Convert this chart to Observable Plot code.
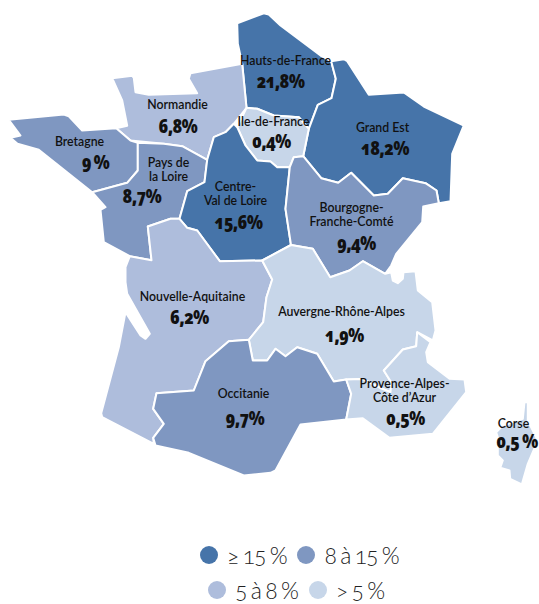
<!DOCTYPE html>
<html lang="fr"><head><meta charset="utf-8">
<script src="https://cdn.jsdelivr.net/npm/d3@7"></script>
<script src="https://cdn.jsdelivr.net/npm/@observablehq/plot@0.6"></script>
<style>
html,body{margin:0;padding:0;background:#fff}
svg{display:block}
svg text.val, .val text{letter-spacing:-.6px;font-stretch:85%}
#legend{position:absolute;left:0;top:537px;width:539px;font-family:Lato,sans-serif;font-weight:300;font-size:23px;letter-spacing:-1.2px;word-spacing:-.5px;color:#222;font-variant-numeric:oldstyle-nums}
.row{display:flex;justify-content:flex-start;align-items:center;height:35px;white-space:nowrap}
.row:nth-child(1){padding-left:200px}
.row:nth-child(2){padding-left:208px}
.sw{width:18px;height:18px;border-radius:50%;margin:0 9px 0 0;flex:none}
.lab{margin-right:11px}
</style></head><body>
<div id="chart"></div><div id="legend"></div>
<script>
const regions=["Hauts-de-France","Grand Est","Normandie","Ile-de-France","Bretagne","Pays de\nla Loire","Centre-\nVal de Loire","Bourgogne-\nFranche-Comté","Nouvelle-Aquitaine","Auvergne-Rhône-Alpes","Occitanie","Provence-Alpes-\nCôte d’Azur","Corse"];
const shares=[21.8,18.2,6.8,0.4,9,8.7,15.6,9.4,6.2,1.9,9.7,0.5,0.5];
const shareLabels=["21,8%","18,2%","6,8%","0,4%","9 %","8,7%","15,6%","9,4%","6,2%","1,9%","9,7%","0,5%","0,5 %"];
const nameX=[285,382,177,273,79,168,235,351,192,341,243,404,513];
const nameY=[60,127,104,121,141,169,193,214,296,311,393,390,423];
const valueX=[280,384.5,177.5,271,95,141.5,238,356,189,344,244.5,405,516.5];
const valueY=[81,148,126,141,162,196,222,243,317,335,418,418,441];
const classLimits=[5,8,15];
const classColors=["#c7d6e9","#aebddc","#7f97c1","#4674a9"];
const legendLabels=[["≥ 15 %","#4674a9"],["8 à 15 %","#7f97c1"],["5 à 8 %","#aebddc"],["> 5 %","#c7d6e9"]];

const hauts=[[236.7,22.7],[263.3,12.7],[268.3,14],[280,25],[320,55],[330.7,60.7],[335.3,78.3],[331,97.7],[317.3,104.3],[308.3,128.3],[298.3,116.7],[273.3,115],[256.7,108.3],[246,107.3],[241.7,63.3],[237.3,43.3]];
const grandEst=[[330.7,60.7],[343.3,58.7],[346.7,60.7],[368.3,94.3],[403.3,92],[423.3,106],[463.3,125],[451.7,153.3],[450,200.7],[438.3,202.7],[436,190],[425,182.7],[402.3,177.7],[387.3,193.3],[373.3,195],[350.7,172.3],[337.7,182.3],[320.7,177.7],[302.7,155.7],[308.3,128.3],[317.3,104.3],[331,97.7],[335.3,78.3]];
const idf=[[246,107.3],[256.7,108.3],[273.3,115],[298.3,116.7],[308.3,128.3],[302.7,155.7],[293.3,156.7],[289.3,166.7],[276.7,166.7],[270,161],[256.7,160],[245,145],[236.7,126.7]];
const normandie=[[111.7,77.7],[131.7,75.3],[133.3,77.3],[135,91.7],[148.3,94.3],[196.7,92.7],[188.3,78.3],[190,72.7],[241.7,63.3],[246,107.3],[233.3,123.3],[225,131.7],[213.3,136.7],[206.7,159.3],[181.7,145.7],[163.3,143.3],[130,140],[115.7,127.7],[126.7,125.3],[121.7,100]];
const bretagne=[[8.3,119.3],[63.3,114],[68.3,115.7],[81.7,130],[115.7,127.7],[130,140],[137.3,142.3],[137.3,170],[126.7,182.3],[91.7,191.7],[38.3,149.3],[17,143.3],[10,137.3],[20,135]];
const loire=[[137.3,142.3],[163.3,143.3],[181.7,145.7],[206.7,159.3],[204,181.7],[186.7,190.7],[179,218.3],[170,218.3],[147.3,226],[151,259.7],[129.3,255.7],[103.3,241.7],[100,209.3],[105,206.7],[91.7,191.7],[126.7,182.3],[137.3,170]];
const centre=[[206.7,159.3],[213.3,136.7],[225,131.7],[233.3,123.3],[236.7,126.7],[245,145],[256.7,160],[270,161],[276.7,166.7],[289.3,166.7],[285,208.3],[290.5,244.5],[261.7,260],[219.3,260.7],[196.7,230],[186.7,227.3],[179,218.3],[186.7,190.7],[204,181.7]];
const bourgogne=[[293.3,156.7],[302.7,155.7],[320.7,177.7],[337.7,182.3],[350.7,172.3],[373.3,195],[387.3,193.3],[402.3,177.7],[425,182.7],[436,190],[438.3,202.7],[422.7,206],[421.7,221.7],[395.7,253.3],[390.7,265],[384.7,273.3],[362.3,260.7],[349,270],[329.7,276.7],[312.3,248.3],[290.5,244.5],[285,208.3],[289.3,166.7]];
const aquitaine=[[125,266.7],[129.3,255.7],[151,259.7],[147.3,226],[170,218.3],[179,218.3],[186.7,227.3],[196.7,230],[219.3,260.7],[261.7,260],[271.7,279],[266,296.7],[262.7,321.7],[248.3,339.3],[228.3,340.7],[205,360.7],[193.3,390],[156,392.7],[152.7,408.3],[163.3,423.3],[152.7,437.3],[153.3,443.3],[101.7,416.7],[100.7,412.7],[118.3,346.7],[125,311.7],[140,335],[145,338.3],[149.3,333.3],[126.7,293.3],[125,281.7]];
const auvergne=[[290.5,244.5],[312.3,248.3],[329.7,276.7],[349,270],[362.3,260.7],[384.7,273.3],[390.7,271.7],[392.3,280],[397.3,282.7],[402.3,278.3],[403,271.7],[415,270.7],[417.3,290],[431.7,301.7],[435,330],[432.3,340],[416.7,331.7],[415.7,345.7],[402.3,349],[383.3,370],[390.7,381.7],[390,391.7],[381,388],[362,378.5],[345.7,379],[333.3,381],[316.7,353.3],[296.7,346.7],[285,355.7],[275,348.3],[266.7,360],[252.3,360],[248.3,339.3],[262.7,321.7],[266,296.7],[271.7,279],[261.7,260]];
const occitanie=[[228.3,340.7],[248.3,339.3],[252.3,360],[266.7,360],[275,348.3],[285,355.7],[296.7,346.7],[316.7,353.3],[333.3,381],[345.7,379],[350.7,393.3],[345.7,419],[300,424],[275,470],[270,472.3],[243.3,475],[188.3,452.3],[155,445],[152.7,437.3],[163.3,423.3],[152.7,408.3],[156,392.7],[193.3,390],[205,360.7]];
const paca=[[345.7,379],[362,378.5],[381,388],[390,391.7],[390.7,381.7],[383.3,370],[402.3,349],[415.7,345.7],[416.7,331.7],[430,341.7],[425.7,351.7],[427.3,361.7],[449,378.3],[464,379],[465.7,391.7],[432.3,433.3],[389,437.3],[362.3,417.7],[345.7,419],[350.7,393.3]];
const corse=[[524,401.7],[527.3,401.7],[527.3,420],[537.3,440],[527.3,463.3],[521.3,484],[509.7,478.3],[509,470],[499.7,467.3],[502.3,460],[497.3,455],[497.3,436.7],[495.7,431.7],[502.3,425],[522.3,418.3]];
const rings=[hauts,grandEst,normandie,idf,bretagne,loire,centre,bourgogne,aquitaine,auvergne,occitanie,paca,corse];

const features=rings.map((r,i)=>({type:"Feature",properties:{share:shares[i]},geometry:{type:"Polygon",coordinates:[[...r,r[0]]]}}));
const rows=regions.map((name,i)=>({name,label:shareLabels[i],nx:nameX[i],ny:nameY[i],vx:valueX[i],vy:valueY[i]}));

const plot=Plot.plot({width:539,height:530,margin:0,projection:"identity",
  color:{type:"threshold",domain:classLimits,range:classColors},
  marks:[
    Plot.geo(features,{fill:d=>d.properties.share,stroke:"#fff",strokeWidth:2,strokeLinejoin:"round"}),
    Plot.text(rows,{x:"nx",y:"ny",text:"name",fontFamily:"Lato",fontWeight:600,fontSize:12.3,lineHeight:1.18,fill:"#111"}),
    Plot.text(rows,{x:"vx",y:"vy",text:"label",className:"val",fontFamily:"'Open Sans'",fontWeight:800,fontSize:19.5,fontVariant:"oldstyle-nums",fill:"#111"})
  ]});
document.getElementById("chart").append(plot);
const leg=d3.select("#legend");
[legendLabels.slice(0,2),legendLabels.slice(2)].forEach(g=>{
  const row=leg.append("div").attr("class","row");
  g.forEach(([t,c])=>{row.append("span").attr("class","sw").style("background",c);row.append("span").attr("class","lab").text(t);});
});
</script></body></html>
